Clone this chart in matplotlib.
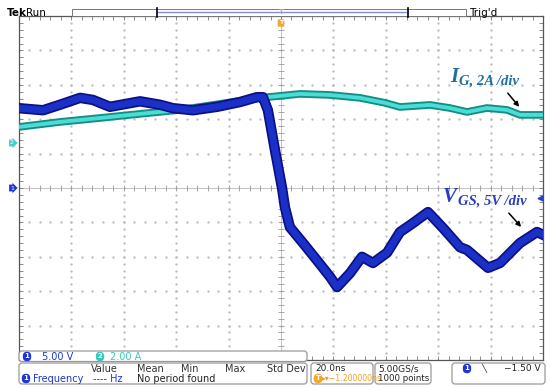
import numpy as np
import matplotlib.pyplot as plt
from matplotlib.patches import FancyBboxPatch, Rectangle

# time axis in ns (20 ns/div, trigger at centre)
t_vgs = [-100, -90.8, -83.6, -76.7, -71.8, -65.3, -59.5, -53.8, -46.2, -41.2,
         -33.6, -24.4, -15.6, -9.2, -6.9, -5.0, -2.3, 0.4, 1.5, 3.4,
         8.4, 13.7, 18.7, 21.4, 26.3, 30.9, 35.1, 40.5, 45.4, 50.4,
         56.1, 61.8, 68.3, 71.0, 79.0, 83.6, 91.2, 97.7, 100]
# gate-source voltage, V (channel 1, 5 V/div)
vgs = [11.6, 11.3, 12.2, 13.1, 12.8, 11.8, 12.2, 12.6, 12.1, 11.6,
       11.3, 11.8, 12.5, 13.2, 13.2, 11.3, 5.5, 0.0, -2.8, -5.7,
       -8.0, -10.5, -12.9, -14.4, -12.4, -10.0, -10.9, -9.4, -6.4, -5.1,
       -3.5, -5.8, -8.6, -9.0, -11.6, -10.9, -8.0, -6.4, -6.8]

t_ig = [-100, -84.4, -69.1, -53.8, -38.6, -23.3, -8.0, 7.3, 18.7, 30.2,
        39.7, 45.4, 56.9, 64.5, 71.0, 78.6, 86.3, 91.2, 100]
# gate current, A (channel 2, 2 A/div)
ig = [0.93, 1.22, 1.45, 1.69, 1.92, 2.27, 2.62, 2.85, 2.79, 2.62,
      2.33, 2.09, 2.21, 2.03, 1.80, 2.03, 1.92, 1.63, 1.63]

v_per_div = 5.0
a_per_div = 2.0
ch1_offset = 0.0
ch2_offset = 1.31
trig_level = -1.5

fig = plt.figure(figsize=(5.5, 3.88), dpi=100)
ax = fig.add_axes([19/550, 1 - 360/388, 524/550, 344/388])
ax.set_xlim(-100, 100)
ax.set_ylim(-5, 5)
ax.set_xticks([])
ax.set_yticks([])
for s in ax.spines.values():
    s.set_color('#555555')
    s.set_linewidth(0.9)

# graticule dots
minor_x = np.arange(-100, 101, 4)
minor_y = np.arange(-5, 5.01, 0.2)
for k in range(-4, 5):
    if k == 0:
        continue
    ax.scatter(minor_x, np.full(len(minor_x), k), s=0.5, color='#bdbdbd', zorder=1)
for k in range(-80, 81, 20):
    if k == 0:
        continue
    ax.scatter(np.full(len(minor_y), k), minor_y, s=0.5, color='#bdbdbd', zorder=1)

# centre cross with ticks
ax.axhline(0, color='#b8b8b8', lw=0.6, zorder=1)
ax.axvline(0, color='#b8b8b8', lw=0.6, zorder=1)
ax.plot(minor_x, np.zeros(len(minor_x)), '|', ms=4, color='#999999', mew=0.6, zorder=1)
ax.plot(np.zeros(len(minor_y)), minor_y, '_', ms=4, color='#999999', mew=0.6, zorder=1)
# edge ticks
ax.plot(minor_x, np.full(len(minor_x), 5), '|', ms=6, color='#777777', mew=0.6)
ax.plot(minor_x, np.full(len(minor_x), -5), '|', ms=6, color='#777777', mew=0.6)
ax.plot(np.full(len(minor_y), -100), minor_y, '_', ms=6, color='#777777', mew=0.6)
ax.plot(np.full(len(minor_y), 100), minor_y, '_', ms=6, color='#777777', mew=0.6)

# traces
y2 = np.array(ig) / a_per_div + ch2_offset
ax.plot(t_ig, y2, color='#178c84', lw=5.5, solid_joinstyle='round', zorder=3)
ax.plot(t_ig, y2, color='#48ddd5', lw=2.8, solid_joinstyle='round', zorder=3)
y1 = np.array(vgs) / v_per_div + ch1_offset
ax.plot(t_vgs, y1, color='#0c1080', lw=7.5, solid_joinstyle='round', zorder=4)
ax.plot(t_vgs, y1, color='#1a30c8', lw=5, solid_joinstyle='round', zorder=4)

# trigger level marker at right edge
ax.plot([99], [trig_level / v_per_div], marker='<', ms=3.5, color='#2a40d0',
        clip_on=False, zorder=5)

# overlay in pixel coordinates
ov = fig.add_axes([0, 0, 1, 1], zorder=5)
ov.set_xlim(0, 550)
ov.set_ylim(388, 0)
ov.axis('off')
ov.patch.set_alpha(0)

# channel ground markers
ov.text(12, 143, '2', fontsize=4.5, color='white', ha='center', va='center',
        bbox=dict(boxstyle='rarrow,pad=0.15', fc='#45cfc8', ec='none'))
ov.text(12, 188, '1', fontsize=4.5, color='white', ha='center', va='center',
        bbox=dict(boxstyle='rarrow,pad=0.15', fc='#1f35d6', ec='none'))

# top status line
ov.text(7, 15.5, 'Tek', fontsize=7.5, fontweight='bold', va='baseline')
ov.text(26, 15.5, 'Run', fontsize=7.5, va='baseline')
ov.add_patch(Rectangle((72, 8.5), 394, 7.5, fc='white', ec='#777777', lw=0.7))
ov.plot([157, 408], [12.3, 12.3], color='#7f8fe8', lw=1)
ov.plot([157, 157], [8, 16.5], color='black', lw=1.2)
ov.plot([408, 408], [8, 16.5], color='black', lw=1.2)
ov.text(469, 15.5, "Trig'd", fontsize=7.5, va='baseline')
ov.text(281, 12.5, 'T', fontsize=5, color='#f0a020', fontweight='bold',
        ha='center', va='center')
ov.text(281, 23, 'T', fontsize=4.5, color='white', fontweight='bold',
        ha='center', va='center',
        bbox=dict(boxstyle='round,pad=0.2', fc='#f0a830', ec='none'))

# annotations
serif = dict(family='Liberation Serif', fontweight='bold', style='italic')
ov.text(450, 82, 'I', fontsize=15, color='#1f6fa3', va='baseline', **serif)
ov.text(459, 85, 'G, 2A /div', fontsize=10.5, color='#1f6fa3', va='baseline', **serif)
ov.annotate('', xy=(521, 109), xytext=(506, 91),
            arrowprops=dict(arrowstyle='-|>', color='black', lw=1.1,
                            mutation_scale=7))
ov.text(443, 202, 'V', fontsize=15, color='#2a3dbf', va='baseline', **serif)
ov.text(458, 205, 'GS, 5V /div', fontsize=10.5, color='#2a3dbf', va='baseline', **serif)
ov.annotate('', xy=(523, 229), xytext=(507, 211),
            arrowprops=dict(arrowstyle='-|>', color='black', lw=1.1,
                            mutation_scale=7))

# bottom readouts
def box(x0, y0, x1, y1):
    ov.add_patch(FancyBboxPatch((x0, y0), x1 - x0, y1 - y0,
                                boxstyle='round,pad=0,rounding_size=3',
                                fc='white', ec='#9a9a9a', lw=0.9, zorder=2))

def badge(x, y, label, color):
    ov.text(x, y, label, fontsize=5, color='white', fontweight='bold',
            ha='center', va='center', zorder=4,
            bbox=dict(boxstyle='round,pad=0.25,rounding_size=0.6', fc=color, ec='none'))

blue = '#1f35d6'
cyan = '#35c8c0'
fs = 7

box(19, 351, 307, 361.5)
badge(27, 356.5, '1', blue)
ov.text(42, 356.5, '5.00 V', fontsize=fs, color=blue, va='center', zorder=4)
badge(100, 356.5, '2', cyan)
ov.text(110, 356.5, '2.00 A', fontsize=fs, color=cyan, va='center', zorder=4)

box(19, 363, 307, 384)
for x, lab in [(91, 'Value'), (137, 'Mean'), (181, 'Min'), (225, 'Max'), (267, 'Std Dev')]:
    ov.text(x, 368.5, lab, fontsize=fs, color='#333333', va='center', zorder=4)
badge(26, 378.5, '1', blue)
ov.text(33, 378.5, 'Frequency', fontsize=fs, color=blue, va='center', zorder=4)
ov.text(93, 378.5, '---- Hz', fontsize=fs, color=blue, va='center', zorder=4)
ov.text(137, 378.5, 'No period found', fontsize=fs, color='#222222', va='center', zorder=4)

box(311, 363, 373, 384)
ov.text(315, 368.5, '20.0ns', fontsize=6.5, color='#222222', va='center', zorder=4)
badge(318, 378.5, 'T', '#f0a830')
ov.text(322, 378.5, '\u25b8\u25be\u22121.200000ns', fontsize=5.6, color='#f0a020',
        va='center', zorder=4)

box(375, 363, 431, 384)
ov.text(378, 368.5, '5.00GS/s', fontsize=6.5, color='#222222', va='center', zorder=4)
ov.text(378, 378.5, '1000 points', fontsize=6.2, color='#222222', va='center', zorder=4)

box(452, 363, 545, 384)
badge(467, 368.5, '1', blue)
ov.text(481, 368.5, '\u2572', fontsize=6, color='#222222', va='center', zorder=4)
ov.text(504, 368.5, '\u22121.50 V', fontsize=6.5, color='#222222', va='center', zorder=4)

fig.savefig('out.png', dpi=100)
